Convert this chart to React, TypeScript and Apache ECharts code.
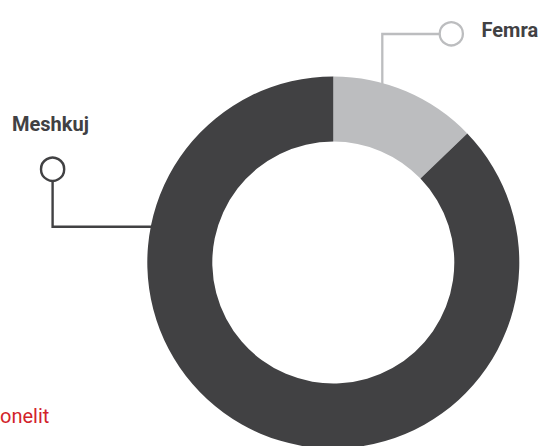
import React, { useEffect, useRef } from "react";
import * as echarts from "echarts";

// Gender split of staff
const categories = ["Femra", "Meshkuj"];
const shares = [12.8, 87.2];
const sliceColors = ["#BCBDBF", "#414143"];

const FONT = "Roboto, 'Liberation Sans', Arial, sans-serif";

export default function App() {
  const ref = useRef<HTMLDivElement>(null);

  useEffect(() => {
    if (!ref.current) return;
    const chart = echarts.init(ref.current, undefined, { renderer: "svg" });

    chart.setOption({
      animation: false,
      backgroundColor: "#ffffff",
      series: [
        {
          type: "pie",
          center: [333.3, 262.5],
          radius: [121, 186],
          startAngle: 90,
          clockwise: true,
          silent: true,
          label: { show: false },
          labelLine: { show: false },
          emphasis: { disabled: true },
          itemStyle: { borderWidth: 0 },
          data: categories.map((name, i) => ({
            name,
            value: shares[i],
            itemStyle: { color: sliceColors[i] },
          })),
        },
      ],
      graphic: [
        // Femra callout
        {
          type: "polyline",
          silent: true,
          shape: { points: [[382.3, 84], [382.3, 34], [439.6, 34]] },
          style: { fill: "none", stroke: "#BCBDBF", lineWidth: 2.3 },
        },
        {
          type: "circle",
          silent: true,
          shape: { cx: 451.3, cy: 33.8, r: 11.6 },
          style: { fill: "#ffffff", stroke: "#BCBDBF", lineWidth: 2.3 },
        },
        {
          type: "text",
          silent: true,
          x: 481.5,
          y: 29.7,
          style: {
            text: categories[0],
            font: `bold 20px ${FONT}`,
            fill: "#414143",
            align: "left",
            verticalAlign: "middle",
          },
        },
        // Meshkuj callout
        {
          type: "polyline",
          silent: true,
          shape: { points: [[52.6, 181], [52.6, 226.7], [152, 226.7]] },
          style: { fill: "none", stroke: "#414143", lineWidth: 2.4 },
        },
        {
          type: "circle",
          silent: true,
          shape: { cx: 52.6, cy: 169.2, r: 11.6 },
          style: { fill: "#ffffff", stroke: "#414143", lineWidth: 2.4 },
        },
        {
          type: "text",
          silent: true,
          x: 12,
          y: 123.5,
          style: {
            text: categories[1],
            font: `bold 20px ${FONT}`,
            fill: "#414143",
            align: "left",
            verticalAlign: "middle",
          },
        },
        // Footer note at the left edge
        {
          type: "text",
          silent: true,
          x: 0,
          y: 416,
          style: {
            text: "onelit",
            font: `20px ${FONT}`,
            fill: "#D2232A",
            align: "left",
            verticalAlign: "middle",
          },
        },
      ],
    });

    return () => chart.dispose();
  }, []);

  return (
    <div
      ref={ref}
      style={{ position: "fixed", left: 0, top: 0, width: 542, height: 446 }}
    />
  );
}
